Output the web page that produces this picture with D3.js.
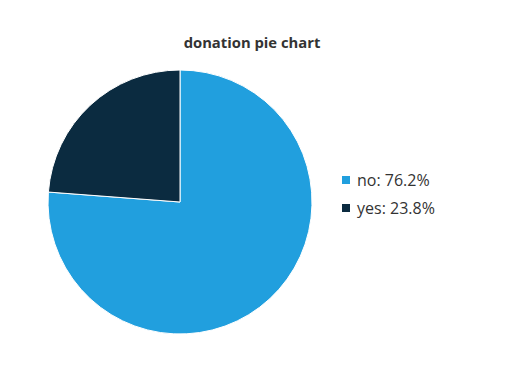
<!DOCTYPE html>
<html><head><meta charset="utf-8">
<script src="https://cdn.jsdelivr.net/npm/d3@7"></script>
<style>body{margin:0;background:#fff;}svg{display:block;}</style>
</head><body>
<svg id="c" width="505" height="380"></svg>
<script>
const title = "donation pie chart";
const categories = ["no", "yes"];
const values = [76.2, 23.8];
const colors = ["#219fde", "#0b2b40"];

const svg = d3.select("#c");
const font = "'Segoe UI','Open Sans','Noto Sans',sans-serif";
svg.append("text").attr("x", 252).attr("y", 48).attr("text-anchor", "middle")
  .attr("font-family", font).attr("font-weight", "bold").attr("font-size", 14.8)
  .attr("fill", "#333").text(title);

const data = categories.map((c, i) => ({cat: c, value: values[i]}));
const pie = d3.pie().value(d => d.value).sort(null);
const arc = d3.arc().innerRadius(0).outerRadius(132);
const color = d3.scaleOrdinal().domain(categories).range(colors);
const g = svg.append("g").attr("transform", "translate(180,202)");
g.selectAll("path").data(pie(data)).join("path")
  .attr("d", arc).attr("fill", d => color(d.data.cat))
  .attr("stroke", "#fff").attr("stroke-width", 1);

const lg = svg.append("g").attr("transform", "translate(342,176)");
const items = lg.selectAll("g").data(data).join("g")
  .attr("transform", (d, i) => `translate(0,${i * 28})`);
items.append("rect").attr("width", 8).attr("height", 8).attr("fill", d => color(d.cat));
items.append("text").attr("x", 15).attr("y", 10)
  .attr("font-family", font).attr("font-size", 16).attr("fill", "#333")
  .text(d => `${d.cat}: ${d.value.toFixed(1)}%`);
</script>
</body></html>
